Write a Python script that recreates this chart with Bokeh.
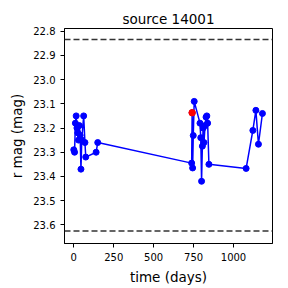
from bokeh.plotting import figure
from bokeh.models import Range1d, FixedTicker, Span, PrintfTickFormatter
from bokeh.embed import file_html
from bokeh.resources import INLINE

# data
time_days = [0, 5, 10, 15, 20, 25, 30, 35, 40, 45, 50, 62, 70, 75, 140, 150,
             738, 741, 744, 748, 754, 790, 795, 800, 805, 810, 815, 822, 828, 833, 838, 846,
             1079, 1121, 1140, 1156, 1181]
r_mag = [23.29, 23.30, 23.18, 23.15, 23.20, 23.22, 23.25, 23.19, 23.23, 23.37, 23.25, 23.15, 23.26, 23.32, 23.30, 23.26,
         23.345, 23.137, 23.365, 23.231, 23.09, 23.18, 23.24, 23.42, 23.275, 23.20, 23.26, 23.19, 23.155, 23.15, 23.18, 23.35,
         23.367, 23.21, 23.127, 23.267, 23.14]
highlight_time = [741]
highlight_mag = [23.137]
limit_mags = [22.834, 23.625]
x_ticks = [0, 250, 500, 750, 1000]
y_ticks = [22.8, 22.9, 23.0, 23.1, 23.2, 23.3, 23.4, 23.5, 23.6]

FONT = "DejaVu Sans"

p = figure(width=288, height=288, output_backend="svg", toolbar_location=None,
           x_range=Range1d(-58, 1244), y_range=Range1d(23.677, 22.789),
           title="source 14001", min_border_left=64, min_border_right=16,
           min_border_top=28, min_border_bottom=45)

p.title.align = "center"
p.title.text_font = FONT
p.title.text_font_size = "13.5px"
p.title.text_font_style = "normal"
p.title.text_color = "black"
p.title.standoff = 4

p.grid.visible = False
p.outline_line_color = "black"
p.outline_line_width = 1
p.background_fill_color = "white"
p.border_fill_color = "white"

for ax in (p.xaxis[0], p.yaxis[0]):
    ax.major_label_text_font = FONT
    ax.major_label_text_font_size = "10px"
    ax.major_label_text_color = "black"
    ax.axis_label_text_font = FONT
    ax.axis_label_text_font_size = "13.5px"
    ax.axis_label_text_font_style = "normal"
    ax.axis_label_text_color = "black"
    ax.minor_tick_line_color = None
    ax.major_tick_in = 0
    ax.major_tick_out = 4
    ax.axis_line_color = "black"
    ax.major_tick_line_color = "black"

p.xaxis.ticker = FixedTicker(ticks=x_ticks)
p.yaxis.ticker = FixedTicker(ticks=y_ticks)
p.yaxis.formatter = PrintfTickFormatter(format="%.1f")
p.xaxis.axis_label = "time (days)"
p.yaxis.axis_label = "r mag (mag)"

for m in limit_mags:
    p.add_layout(Span(location=m, dimension="width", line_color="#333333",
                      line_dash="6 3", line_width=1.5))

p.line(time_days, r_mag, line_color="#0000ff", line_width=1.5)
p.scatter(time_days, r_mag, size=6, fill_color="#0000ff", line_color="#0000ff")
p.scatter(highlight_time, highlight_mag, size=6.5, fill_color="red", line_color="red")

open("out.html", "w").write(file_html(p, INLINE))
